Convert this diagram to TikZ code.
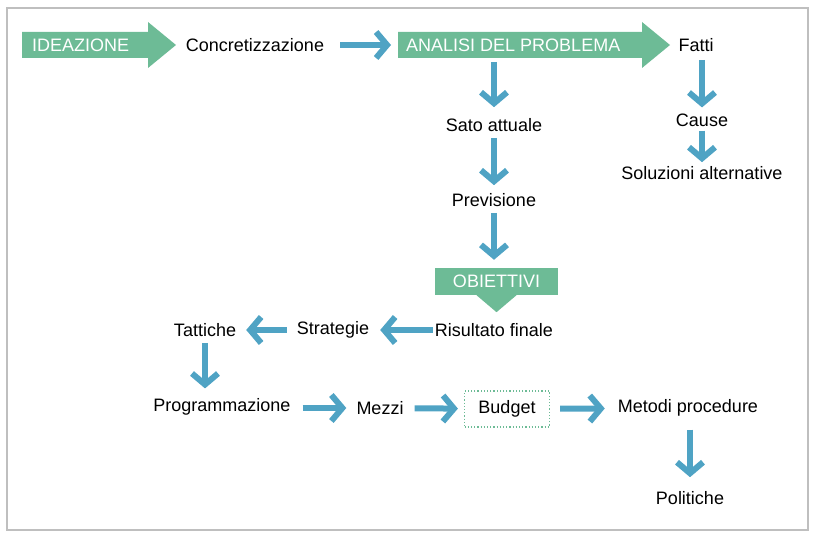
\documentclass[tikz,border=0pt]{standalone}
\usepackage{fontspec}
\setmainfont{Liberation Sans}
\usetikzlibrary{shapes, arrows.meta}
\definecolor{verde}{HTML}{6DBB96}
\definecolor{azzurro}{HTML}{4FA3C4}
\tikzstyle{voce} = [inner sep=2pt, font=\fontsize{18}{21}\selectfont]
\tikzstyle{bianca} = [voce, text=white, anchor=west]
\tikzstyle{freccia} = [draw=azzurro, line width=6pt,
  -{Straight Barb[length=11pt, width=26pt, line width=6pt]}]

\begin{document}
\begin{tikzpicture}[x=1pt, y=-1pt]
    % bounding box and frame
    \useasboundingbox (0,0) rectangle (814,537);
    \draw [black!25, line width=2pt] (7,8) rectangle (808,530);

    % big green arrows
    \fill [verde] (22,32) -- (148,32) -- (148,22) -- (176,45) -- (148,68) -- (148,58) -- (22,58) -- cycle;
    \fill [verde] (398,32) -- (642,32) -- (642,22) -- (670,45) -- (642,68) -- (642,58) -- (398,58) -- cycle;
    \node [bianca] (ideazione) at (30,45) {IDEAZIONE};
    \node [bianca] (analisi) at (404,45) {ANALISI DEL PROBLEMA};
    \coordinate (analisibase) at (494,58);
    \node [voce, text=white, fill=verde, minimum width=123pt, minimum height=27pt] (obiettivi) at (496.5,281.5) {OBIETTIVI};
    \fill [verde] (obiettivi.south) ++(-20,0) -- ++(20,17) -- ++(20,-17) -- cycle;

    % the text nodes
    \node [voce] (concr) at (255,45) {Concretizzazione};
    \node [voce] (fatti) at (696,45) {Fatti};
    \node [voce] (sato) at (494,125) {Sato attuale};
    \node [voce] (previsione) at (494,200) {Previsione};
    \node [voce] (cause) at (702,120) {Cause};
    \node [voce] (soluzioni) at (702,173) {Soluzioni alternative};
    \node [voce] (risultato) at (494,330) {Risultato finale};
    \node [voce] (strategie) at (333,330) {Strategie};
    \node [voce] (tattiche) at (205,330) {Tattiche};
    \node [voce] (programmazione) at (222,407) {Programmazione};
    \node [voce] (mezzi) at (380,408) {Mezzi};
    \node [voce, draw=verde, dotted, line width=1.2pt, minimum width=85pt, minimum height=36pt] (budget) at (507,409) {Budget};
    \node [voce] (metodi) at (688,408) {Metodi procedure};
    \node [voce] (politiche) at (690,498) {Politiche};

    % blue arrows
    \draw [freccia, shorten <=14pt, shorten >=13pt] (concr) -- (analisi.west |- concr);
    \draw [freccia, shorten <=4pt, shorten >=9pt] (analisibase) -- (sato);
    \draw [freccia, shorten <=6pt, shorten >=4pt] (cause |- fatti.south) -- (cause);
    \draw [freccia, shorten <=2pt, shorten >=2pt] (cause) -- (soluzioni);
    \draw [freccia, shorten <=4pt, shorten >=6pt] (sato) -- (previsione);
    \draw [freccia, shorten <=4pt, shorten >=8pt] (previsione) -- (previsione |- obiettivi.north);
    \draw [freccia, shorten <=0pt, shorten >=9pt] (risultato) -- (strategie);
    \draw [freccia, shorten <=8pt, shorten >=8pt] (strategie) -- (tattiche);
    \draw [freccia, shorten <=4pt, shorten >=8pt] (tattiche) -- (tattiche |- programmazione.north);
    \draw [freccia, shorten <=10pt, shorten >=8pt] (programmazione.east |- mezzi) -- (mezzi);
    \draw [freccia, shorten <=9pt, shorten >=6pt] (mezzi) -- (budget);
    \draw [freccia, shorten <=10pt, shorten >=11pt] (budget) -- (metodi);
    \draw [freccia, shorten <=11pt, shorten >=12pt] (politiche |- metodi.south) -- (politiche);
\end{tikzpicture}
\end{document}
